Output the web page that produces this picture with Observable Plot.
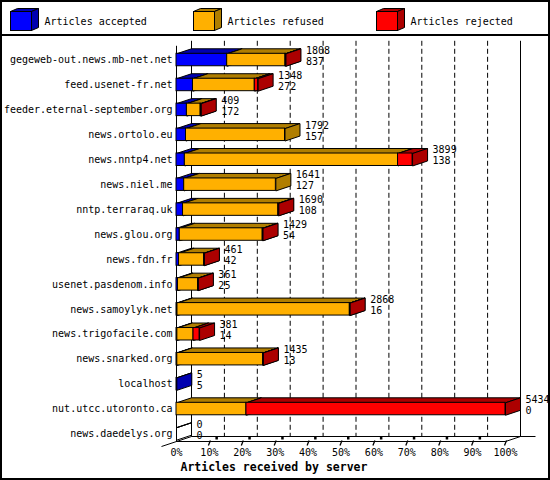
<!DOCTYPE html>
<html><head><meta charset="utf-8">
<script src="https://cdn.jsdelivr.net/npm/d3@7"></script>
<script src="https://cdn.jsdelivr.net/npm/@observablehq/plot@0.6"></script>
<style>html,body{margin:0;padding:0;background:#fff}</style>
</head><body><div id="chart"></div>
<script>
// ---- data ----
const servers = ["gegeweb-out.news.mb-net.net","feed.usenet-fr.net","feeder.eternal-september.org","news.ortolo.eu","news.nntp4.net","news.niel.me","nntp.terraraq.uk","news.glou.org","news.fdn.fr","usenet.pasdenom.info","news.samoylyk.net","news.trigofacile.com","news.snarked.org","localhost","nut.utcc.utoronto.ca","news.daedelys.org"];
const received = [1808,1348,409,1792,3899,1641,1690,1429,461,361,2868,381,1435,5,5434,0];
const accepted = [837,272,172,157,138,127,108,54,42,25,16,14,13,5,0,0];
const refused  = [963,1021,227,1635,3521,1514,1574,1370,414,331,2847,267,1417,0,1155,0];
const rejected = [8,55,10,0,240,0,8,5,5,5,5,100,5,0,4279,0];
const seriesNames = ["Articles accepted","Articles refused","Articles rejected"];
const frontColors = ["#0000ff","#ffb000","#ff0000"];
const darkColors  = ["#0000b0","#b07e00","#ac0000"];
const tickPercents = [0,10,20,30,40,50,60,70,80,90,100];
const xTitle = "Articles received by server";

// ---- derived tables ----
const maxV = d3.max(received);
const segs = [];
servers.forEach((s, i) => {
  const vals = [accepted[i], refused[i], rejected[i]];
  let c = 0;
  vals.forEach((v, k) => {
    if (v > 0) segs.push({server: s, series: seriesNames[k], k, p1: c / maxV * 100, p2: (c + v) / maxV * 100});
    c += v;
  });
  if (received[i] === 0) segs.push({server: s, series: null, k: -1, p1: 0, p2: 0});
});
const rows = servers.map((s, i) => ({server: s, total: received[i], acc: accepted[i], pct: received[i] / maxV * 100}));

const DX = 15, DY = 5; // 3D depth offset (pixels)
const W = 550, H = 480, ML = 176, MR = 45, MT = 52, MB = 39;

function backdrop(index, {x, y}, values, dims) {
  const g = d3.create("svg:g").attr("transform", "translate(0.5,0.5)").attr("fill", "none").attr("stroke", "black");
  const floorY = dims.height - dims.marginBottom;
  const wallTop = y(servers[0]) - 13;
  const x0 = x(0), x1 = x(100);
  for (const p of tickPercents.slice(1, -1)) {
    g.append("line").attr("x1", x(p) + DX).attr("x2", x(p) + DX).attr("y1", wallTop).attr("y2", floorY - DY)
      .attr("stroke-dasharray", "5,3");
  }
  g.append("line").attr("x1", x0 + DX).attr("x2", x0 + DX).attr("y1", wallTop).attr("y2", floorY - DY);
  g.append("line").attr("x1", x1 + DX).attr("x2", x1 + DX).attr("y1", wallTop).attr("y2", floorY - DY);
  g.append("line").attr("x1", x0).attr("x2", x0).attr("y1", wallTop + DY).attr("y2", floorY);
  g.append("line").attr("x1", x0).attr("x2", x1).attr("y1", floorY).attr("y2", floorY);
  g.append("line").attr("x1", x0 + DX).attr("x2", x1 + 2 * DX).attr("y1", floorY - DY).attr("y2", floorY - DY);
  g.append("line").attr("x1", x1).attr("x2", x1 + DX).attr("y1", floorY).attr("y2", floorY - DY);
  g.append("line").attr("x1", x0 - DX).attr("x2", x0 + DX).attr("y1", floorY + DY).attr("y2", floorY - DY);
  return g.node();
}

function faces(index, {x, y}) {
  const g = d3.create("svg:g").attr("transform", "translate(0.5,0.5)").attr("stroke", "black").attr("stroke-linejoin", "miter");
  const bw = typeof y.bandwidth === "function" ? y.bandwidth() : 12.4;
  for (const s of segs) {
    const a = x(s.p1), b = x(s.p2), t = y(s.server), bt = t + bw;
    const fill = s.k < 0 ? "none" : darkColors[s.k];
    g.append("path").attr("fill", fill)
      .attr("d", `M${a},${t}L${b},${t}L${b + DX},${t - DY}L${a + DX},${t - DY}Z`);
    g.append("path").attr("fill", fill)
      .attr("d", `M${b},${t}L${b + DX},${t - DY}L${b + DX},${bt - DY}L${b},${bt}Z`);
  }
  return g.node();
}

function ticks3d(index, {x}, values, dims) {
  const g = d3.create("svg:g").attr("transform", "translate(0.5,0.5)");
  const floorY = dims.height - dims.marginBottom;
  for (const p of tickPercents.slice(1)) {
    const xp = x(p);
    g.append("line").attr("x1", xp - 1).attr("x2", xp + 1).attr("y1", floorY + 4).attr("y2", floorY - 1)
      .attr("stroke", "black").attr("stroke-width", 1.3);
    if (p < 100) g.append("rect").attr("x", xp + 6).attr("y", floorY - 4.5).attr("width", 2.5).attr("height", 2.5).attr("fill", "black");
  }
  return g.node();
}

function legend(index, {color}) {
  const g = d3.create("svg:g").attr("transform", "translate(0.5,0.5)");
  seriesNames.forEach((name, i) => {
    const fx = 10 + i * 183, fy = 11, fw = 21, fh = 19, ddx = 7, ddy = 3;
    const cg = g.append("g").attr("stroke", "black");
    cg.append("path").attr("fill", darkColors[i]).attr("d", `M${fx},${fy}L${fx + fw},${fy}L${fx + fw + ddx},${fy - ddy}L${fx + ddx},${fy - ddy}Z`);
    cg.append("path").attr("fill", darkColors[i]).attr("d", `M${fx + fw},${fy}L${fx + fw + ddx},${fy - ddy}L${fx + fw + ddx},${fy + fh - ddy}L${fx + fw},${fy + fh}Z`);
    cg.append("rect").attr("fill", color(name)).attr("x", fx).attr("y", fy).attr("width", fw).attr("height", fh);
    g.append("text").attr("x", fx + 34).attr("y", 21).attr("dy", "0.35em").attr("text-anchor", "start").attr("fill", "black").text(name);
  });
  return g.node();
}

function frame(index, scales, values, dims) {
  const g = d3.create("svg:g").attr("fill", "none").attr("stroke", "black").attr("stroke-width", 2);
  g.append("rect").attr("x", 1).attr("y", 1).attr("width", dims.width - 2).attr("height", dims.height - 2);
  g.append("line").attr("x1", 0).attr("x2", dims.width).attr("y1", 35).attr("y2", 35);
  return g.node();
}

const chart = Plot.plot({
  width: W, height: H,
  marginLeft: ML, marginRight: MR, marginTop: MT, marginBottom: MB,
  style: {fontFamily: "'DejaVu Sans Mono', monospace", fontSize: "10px", background: "white", color: "black", overflow: "visible"},
  x: {domain: [0, 100], label: null},
  y: {domain: servers, paddingInner: 0.5, paddingOuter: 0.052, round: false, label: null},
  color: {domain: seriesNames, range: frontColors},
  marks: [
    backdrop,
    faces,
    Plot.barX(segs.filter(d => d.k >= 0), {x1: "p1", x2: "p2", y: "server", fill: "series", stroke: "black", strokeWidth: 1}),
    Plot.axisY({tickSize: 0, tickPadding: 4, label: null}),
    Plot.axisX({ticks: tickPercents, tickFormat: d => d + "%", tickSize: 0, tickPadding: 7, label: null}),
    ticks3d,
    Plot.text(rows, {x: "pct", y: "server", text: d => String(d.total), dx: 20, dy: -9.5, textAnchor: "start", lineAnchor: "middle"}),
    Plot.text(rows, {x: "pct", y: "server", text: d => String(d.acc), dx: 20, dy: 1.5, textAnchor: "start", lineAnchor: "middle"}),
    legend,
    Plot.text([xTitle], {frameAnchor: "bottom-left", text: d => d, dx: 4, dy: 26, textAnchor: "start", lineAnchor: "middle", fontWeight: "bold", fontSize: 11.5}),
    frame
  ]
});
document.getElementById("chart").appendChild(chart);
</script>
</body></html>
